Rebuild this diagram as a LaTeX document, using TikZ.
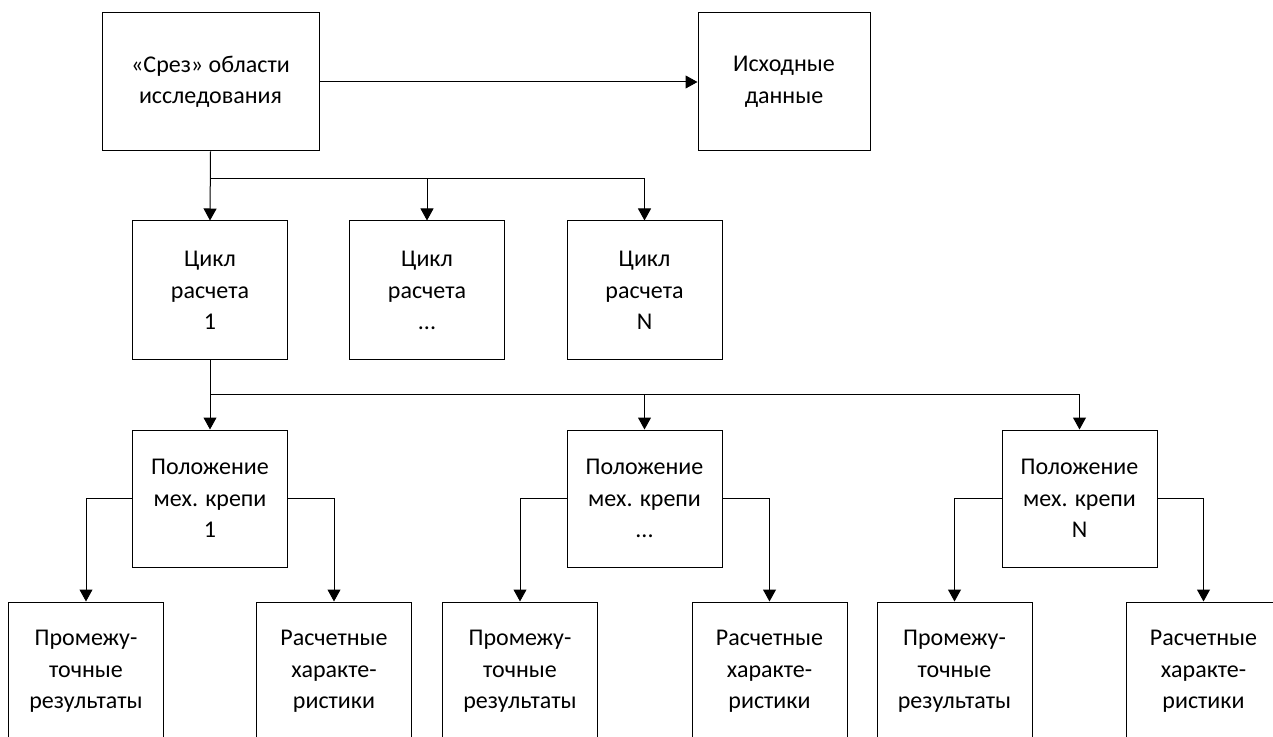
\documentclass[tikz,border=0pt]{standalone}
\usepackage{fontspec}
\setmainfont{Carlito}
\usetikzlibrary{arrows.meta}
\tikzset{
  box/.style={draw=black, line width=0.75pt, fill=white, align=center,
    inner sep=0pt, minimum width=116.25pt, minimum height=104.25pt,
    font=\fontsize{18}{23.6}\selectfont},
  wide/.style={minimum width=162.75pt, minimum height=103.5pt},
  mid/.style={minimum width=129pt, minimum height=103.5pt},
  link/.style={draw=black, line width=0.75pt},
  arr/.style={link, -{Triangle[width=9.75pt,length=9pt]}}
}
\begin{document}
\begin{tikzpicture}[x=0.75pt,y=-0.75pt]
\useasboundingbox (0,0) rectangle (1273,737);
\clip (0,0) rectangle (1273,737);

% top row
\node[box,wide] (src)  at (210.5,82) {«Срез» области\\исследования};
\node[box,mid]  (init) at (784,82)   {Исходные\\данные};

% calculation cycles
\node[box] (c1) at (210,290.5)   {Цикл\\расчета\\1};
\node[box] (c2) at (427,290.5)   {Цикл\\расчета\\...};
\node[box] (c3) at (644.5,290.5) {Цикл\\расчета\\N};

% support positions
\node[box,minimum height=102.75pt] (p1) at (210,498.5)    {Положение\\мех. крепи\\1};
\node[box,minimum height=102.75pt] (p2) at (644.5,498.5)  {Положение\\мех. крепи\\...};
\node[box,minimum height=102.75pt] (p3) at (1079.5,498.5) {Положение\\мех. крепи\\N};

% results
\node[box] (b1) at (86,671.5)     {Промежу-\\точные\\результаты};
\node[box] (b2) at (334,671.5)    {Расчетные\\характе-\\ристики};
\node[box] (b3) at (520,671.5)    {Промежу-\\точные\\результаты};
\node[box] (b4) at (769.5,671.5)  {Расчетные\\характе-\\ристики};
\node[box] (b5) at (954.5,671.5)  {Промежу-\\точные\\результаты};
\node[box] (b6) at (1203.5,671.5) {Расчетные\\характе-\\ристики};

% connectors
\draw[arr] (src.east) -- (init.west);

\coordinate (j1) at (210,179);
\draw[arr] (src.south) -- (c1.north);
\draw[arr] (j1) -| (c2.north);
\draw[arr] (j1) -| (c3.north);

\coordinate (j2) at (210,395);
\draw[arr] (c1.south) -- (p1.north);
\draw[arr] (j2) -| (p2.north);
\draw[arr] (j2) -| (p3.north);

\draw[arr] (p1.west) -| (b1.north);
\draw[arr] (p1.east) -| (b2.north);
\draw[arr] (p2.west) -| (b3.north);
\draw[arr] (p2.east) -| (b4.north);
\draw[arr] (p3.west) -| (b5.north);
\draw[arr] (p3.east) -| (b6.north);
\end{tikzpicture}
\end{document}
